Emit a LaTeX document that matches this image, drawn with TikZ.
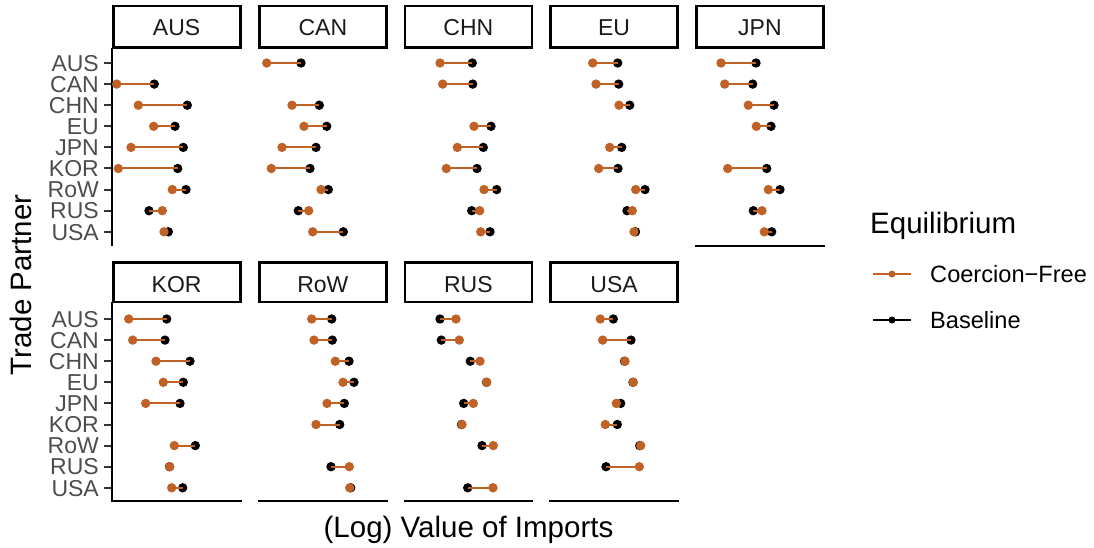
\documentclass[tikz,border=0pt]{standalone}
\usepackage{fontspec}
\setmainfont{Liberation Sans}
\definecolor{cf}{RGB}{192,98,38}
\definecolor{axtxt}{RGB}{77,77,77}
\definecolor{striptxt}{RGB}{26,26,26}
\definecolor{tickc}{RGB}{51,51,51}
\newcommand\dumbbell[4]{%
  \pgfmathsetmacro\yy{#1+21.1*#2}%
  \fill[black] (#4,\yy) circle[radius=4.7pt];%
  \draw[cf,line width=2pt] (#3,\yy) -- (#4,\yy);%
  \fill[cf] (#3,\yy) circle[radius=4.7pt];%
}
\tikzset{
  stripbox/.style={draw=black,line width=2.8pt},
  striplab/.style={anchor=base,inner sep=0pt,text=striptxt,font=\fontsize{23}{27}\selectfont},
  ylab/.style={anchor=base east,inner sep=0pt,text=axtxt,font=\fontsize{23}{27}\selectfont},
  axline/.style={line width=2.2pt,black},
  tick/.style={line width=2pt,tickc},
  title/.style={inner sep=0pt,font=\fontsize{29.5}{34}\selectfont},
  leglab/.style={anchor=base west,inner sep=0pt,font=\fontsize{23.6}{28}\selectfont}
}
\begin{document}
\begin{tikzpicture}[x=1pt,y=-1pt]
\useasboundingbox (0,0) rectangle (1094,548);
% strips
\foreach \L/\lab in {111.7/AUS,258/CAN,403.5/CHN,549.2/EU,695/JPN}{
  \draw[stripbox] (\L+1.4,6.1) rectangle (\L+128.4,47.9);
  \node[striplab] at (\L+64.9,36) {\lab};
}
\foreach \L/\lab in {111.7/KOR,258/RoW,403.5/RUS,549.2/USA}{
  \draw[stripbox] (\L+1.4,262.4) rectangle (\L+128.4,301.9);
  \node[striplab] at (\L+64.9,292) {\lab};
}
% axis lines
\draw[axline] (111.7,48) -- (111.7,246);
\draw[axline] (695,245.7) -- (825,245.7);
\draw[axline] (111.7,302) -- (111.7,500.7) -- (241.5,500.7);
\foreach \L in {258,403.5,549.2}{
  \draw[axline] (\L,500.7) -- (\L+129.8,500.7);
}
% ticks and labels
\foreach \k/\lab in {0/AUS,1/CAN,2/CHN,3/EU,4/JPN,5/KOR,6/RoW,7/RUS,8/USA}{
  \draw[tick] (104,63+21.1*\k) -- (111,63+21.1*\k);
  \node[ylab] at (99,63+21.1*\k+8.2) {\lab};
  \draw[tick] (104,319+21.1*\k) -- (111,319+21.1*\k);
  \node[ylab] at (99,319+21.1*\k+8.2) {\lab};
}
% AUS
\dumbbell{63}{1}{116.7}{154.3}
\dumbbell{63}{2}{138.3}{187.3}
\dumbbell{63}{3}{153.7}{175}
\dumbbell{63}{4}{131}{183.3}
\dumbbell{63}{5}{118.3}{177.7}
\dumbbell{63}{6}{172.3}{186}
\dumbbell{63}{7}{162.3}{149}
\dumbbell{63}{8}{164}{168.3}
% CAN
\dumbbell{63}{0}{266.7}{301}
\dumbbell{63}{2}{292}{319.3}
\dumbbell{63}{3}{304}{326.7}
\dumbbell{63}{4}{282}{316}
\dumbbell{63}{5}{271.3}{310}
\dumbbell{63}{6}{321}{328.3}
\dumbbell{63}{7}{308.7}{298.3}
\dumbbell{63}{8}{312.7}{343.3}
% CHN
\dumbbell{63}{0}{440}{472.3}
\dumbbell{63}{1}{442.7}{472.7}
\dumbbell{63}{3}{474}{491}
\dumbbell{63}{4}{457.3}{483.3}
\dumbbell{63}{5}{446.3}{477}
\dumbbell{63}{6}{484}{496.7}
\dumbbell{63}{7}{479.7}{471.7}
\dumbbell{63}{8}{480.7}{490}
% EU
\dumbbell{63}{0}{592.7}{617.7}
\dumbbell{63}{1}{596}{618.7}
\dumbbell{63}{2}{619}{629.7}
\dumbbell{63}{4}{609.7}{621.7}
\dumbbell{63}{5}{598.7}{618}
\dumbbell{63}{6}{635.7}{645}
\dumbbell{63}{7}{632.3}{627}
\dumbbell{63}{8}{634}{635.5}
% JPN
\dumbbell{63}{0}{721}{756}
\dumbbell{63}{1}{724.7}{752.7}
\dumbbell{63}{2}{748.3}{774}
\dumbbell{63}{3}{756.3}{771}
\dumbbell{63}{5}{727.7}{766.7}
\dumbbell{63}{6}{768.3}{780}
\dumbbell{63}{7}{762}{753.3}
\dumbbell{63}{8}{764.3}{771.7}
% KOR
\dumbbell{319}{0}{128.7}{166.7}
\dumbbell{319}{1}{132.7}{165}
\dumbbell{319}{2}{156}{190}
\dumbbell{319}{3}{163.3}{183.3}
\dumbbell{319}{4}{145.7}{180}
\dumbbell{319}{6}{174.3}{195.3}
\dumbbell{319}{7}{169.7}{169.5}
\dumbbell{319}{8}{171.7}{182.7}
% RoW
\dumbbell{319}{0}{311.7}{331.7}
\dumbbell{319}{1}{314}{332.3}
\dumbbell{319}{2}{335.3}{349}
\dumbbell{319}{3}{343}{354}
\dumbbell{319}{4}{327}{344.3}
\dumbbell{319}{5}{316}{339.7}
\dumbbell{319}{7}{349.3}{331}
\dumbbell{319}{8}{349.7}{350.7}
% RUS
\dumbbell{319}{0}{456}{440}
\dumbbell{319}{1}{459.3}{441.3}
\dumbbell{319}{2}{480}{470.3}
\dumbbell{319}{3}{486.7}{486.5}
\dumbbell{319}{4}{473.3}{463.7}
\dumbbell{319}{5}{462}{461.5}
\dumbbell{319}{6}{493.3}{482}
\dumbbell{319}{8}{493}{467.7}
% USA
\dumbbell{319}{0}{600.3}{613.3}
\dumbbell{319}{1}{602.7}{631}
\dumbbell{319}{2}{625}{624.5}
\dumbbell{319}{3}{633.3}{633}
\dumbbell{319}{4}{616.3}{620.7}
\dumbbell{319}{5}{605.3}{617.3}
\dumbbell{319}{6}{640.7}{639.7}
\dumbbell{319}{7}{639.3}{606}
% axis titles
\node[title,anchor=base] (xt) at (468.5,537) {(Log) Value of Imports};
\node[title,anchor=base,rotate=90] (yt) at (31,285) {Trade Partner};
% legend
\node[title,anchor=base west] (lt) at (870,233) {Equilibrium};
\coordinate (k1a) at (873,274); \coordinate (k1b) at (911,274);
\draw[cf,line width=2pt] (k1a) -- (k1b);
\fill[cf] (892,274) circle[radius=3.5pt];
\node[leglab] (l1) at (930,282.5) {Coercion−Free};
\coordinate (k2a) at (873,320); \coordinate (k2b) at (911,320);
\draw[black,line width=2pt] (k2a) -- (k2b);
\fill[black] (892,320) circle[radius=3.5pt];
\node[leglab] (l2) at (930,328.5) {Baseline};
\end{tikzpicture}
\end{document}
